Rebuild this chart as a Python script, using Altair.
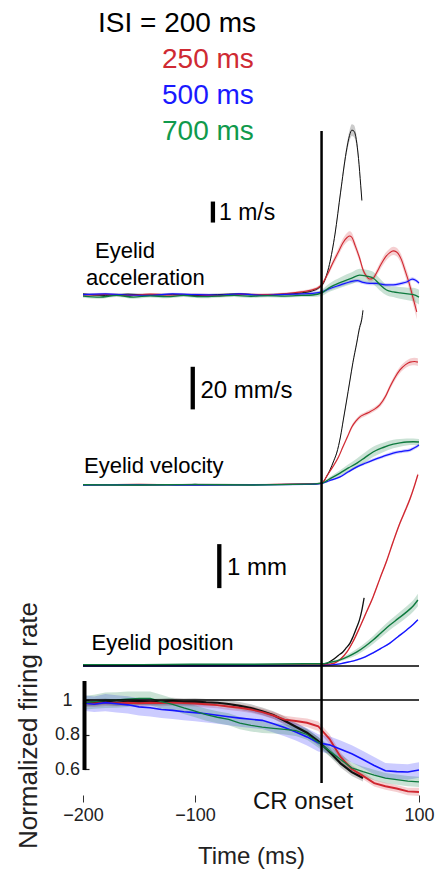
import altair as alt
import pandas as pd

FONT = "Liberation Sans"

# ---------------- data ----------------
ISI = ["200", "250", "500", "700"]
LEGEND_TEXT = ["ISI = 200 ms", "250 ms", "500 ms", "700 ms"]
LINE_COLORS = ["#111111", "#d0262f", "#1515ff", "#0e7a3e"]
TEXT_COLORS = ["#000000", "#cf2a33", "#1a1aff", "#109a4c"]
ONSET_T = 13  # ms, CR onset line position on the time axis

# Eyelid acceleration (m/s per scale bar)
ACC_T_200 = [-200, -180, -160, -140, -120, -100, -80, -60, -40, -20, -5, 5, 10, 15, 20, 25, 30, 35, 38, 40, 42, 44, 46, 48, 49]
ACC_V_200 = [0.05, -0.02, 0.04, 0.0, 0.03, -0.03, 0.02, 0.05, 0.0, 0.04, 0.1, 0.2, 0.32, 0.6, 1.45, 2.9, 4.9, 6.8, 7.6, 7.85, 7.8, 7.4, 6.5, 5.2, 4.5]
ACC_S_200 = [0.05, 0.05, 0.05, 0.05, 0.05, 0.05, 0.05, 0.05, 0.05, 0.05, 0.05, 0.06, 0.07, 0.08, 0.1, 0.12, 0.15, 0.2, 0.25, 0.28, 0.28, 0.25, 0.2, 0.15, 0.12]

ACC_T_250 = [-200, -180, -160, -140, -120, -100, -80, -60, -40, -20, -5, 5, 10, 13, 18, 23, 28, 32, 36, 38, 40, 43, 47, 50, 53, 56, 59, 62, 66, 70, 74, 77, 80, 84, 88, 91, 94, 96, 98]
ACC_V_250 = [0.0, 0.03, -0.02, 0.04, 0.0, 0.02, -0.03, 0.03, 0.02, 0.06, 0.15, 0.25, 0.35, 0.48, 0.95, 1.52, 2.05, 2.48, 2.75, 2.81, 2.75, 2.35, 1.75, 1.2, 0.9, 0.76, 0.8, 1.05, 1.45, 1.8, 2.02, 2.1, 2.05, 1.72, 1.1, 0.6, 0.0, -0.4, -0.8]
ACC_S_250 = [0.06, 0.06, 0.06, 0.06, 0.06, 0.06, 0.06, 0.06, 0.06, 0.06, 0.06, 0.07, 0.08, 0.1, 0.12, 0.15, 0.18, 0.2, 0.22, 0.22, 0.22, 0.2, 0.18, 0.15, 0.12, 0.12, 0.12, 0.15, 0.18, 0.2, 0.2, 0.2, 0.2, 0.22, 0.25, 0.28, 0.3, 0.32, 0.35]

ACC_T_500 = [-200, -180, -160, -140, -120, -100, -80, -60, -40, -20, -5, 5, 13, 20, 30, 38, 45, 50, 56, 62, 70, 77, 84, 89, 94, 97, 100]
ACC_V_500 = [0.02, 0.05, 0.0, -0.02, 0.05, 0.02, 0.0, 0.05, -0.02, 0.03, 0.05, 0.08, 0.14, 0.3, 0.48, 0.62, 0.68, 0.6, 0.55, 0.55, 0.48, 0.48, 0.55, 0.62, 0.76, 0.7, 0.57]
ACC_S_500 = [0.06, 0.06, 0.06, 0.06, 0.06, 0.06, 0.06, 0.06, 0.06, 0.06, 0.06, 0.08, 0.08, 0.08, 0.08, 0.08, 0.08, 0.08, 0.08, 0.08, 0.08, 0.08, 0.08, 0.08, 0.08, 0.08, 0.08]

ACC_T_700 = [-200, -185, -170, -155, -140, -125, -110, -95, -80, -65, -50, -35, -20, -5, 5, 13, 20, 30, 40, 47, 53, 59, 65, 71, 77, 83, 90, 95, 100]
ACC_V_700 = [-0.05, -0.1, -0.02, -0.1, -0.04, -0.08, -0.02, -0.08, -0.05, -0.02, -0.06, -0.03, -0.05, -0.02, 0.0, 0.1, 0.35, 0.6, 0.8, 0.95, 0.9, 0.81, 0.5, 0.24, 0.15, 0.1, 0.05, 0.02, -0.1]
ACC_S_700 = [0.08, 0.08, 0.08, 0.08, 0.08, 0.08, 0.08, 0.08, 0.08, 0.08, 0.08, 0.08, 0.08, 0.08, 0.1, 0.15, 0.2, 0.25, 0.28, 0.3, 0.3, 0.3, 0.28, 0.25, 0.25, 0.28, 0.3, 0.32, 0.35]

# Eyelid velocity (mm/s)
VEL_T_200 = [-200, -150, -100, -50, 0, 10, 13, 17, 20.5, 24, 26.5, 30, 32.4, 35, 38.4, 41, 44.4, 47, 48.8, 50]
VEL_V_200 = [0.2, 0.0, 0.3, 0.2, 0.4, 0.6, 0.8, 3.5, 7.0, 11.5, 15.0, 23.0, 30.5, 38.5, 49.3, 57.5, 66.7, 74.0, 77.5, 82.0]
VEL_S_200 = [0.3, 0.3, 0.3, 0.3, 0.3, 0.3, 0.3, 0.4, 0.5, 0.6, 0.7, 0.8, 0.9, 1.0, 1.1, 1.2, 1.3, 1.4, 1.5, 1.5]

VEL_T_250 = [-200, -150, -100, -50, 0, 10, 13.4, 18, 23, 28, 32, 36, 40, 44, 47, 52, 56, 60, 65, 70, 74, 78, 83, 88, 92, 96, 99]
VEL_V_250 = [0.0, 0.3, 0.0, 0.2, 0.5, 0.7, 0.9, 4.5, 8.5, 13.0, 17.8, 22.5, 27.2, 30.2, 31.9, 33.3, 34.3, 35.5, 37.6, 41.5, 46.0, 50.0, 54.0, 56.5, 57.7, 58.0, 57.7]
VEL_S_250 = [0.3, 0.3, 0.3, 0.3, 0.3, 0.3, 0.3, 0.5, 0.6, 0.7, 0.8, 0.9, 1.0, 1.0, 1.0, 1.0, 1.0, 1.0, 1.1, 1.2, 1.3, 1.4, 1.5, 1.6, 1.7, 1.8, 1.8]

VEL_T_500 = [-200, -150, -100, -50, 0, 13.4, 20, 29.5, 37, 44.6, 52, 59, 68, 77, 85, 92, 96, 100]
VEL_V_500 = [0.0, 0.2, -0.1, 0.1, 0.3, 0.8, 2.0, 3.8, 6.2, 8.5, 10.2, 11.7, 13.4, 15.0, 15.8, 16.4, 17.5, 18.8]
VEL_S_500 = [0.3, 0.3, 0.3, 0.3, 0.3, 0.3, 0.4, 0.5, 0.6, 0.6, 0.7, 0.7, 0.7, 0.8, 0.8, 0.8, 0.8, 0.8]

VEL_T_700 = [-200, -150, -100, -50, 0, 13.4, 20, 29.5, 37, 44.6, 52, 59, 68, 77, 83, 89, 95, 100]
VEL_V_700 = [0.1, 0.0, 0.2, 0.0, 0.4, 0.9, 2.8, 5.6, 8.0, 10.3, 13.0, 15.5, 17.6, 19.2, 19.8, 20.2, 20.3, 20.2]
VEL_S_700 = [0.3, 0.3, 0.3, 0.3, 0.3, 0.4, 0.8, 1.3, 1.8, 2.2, 2.4, 2.4, 2.2, 2.0, 1.8, 1.6, 1.5, 1.4]

# Eyelid position (mm)
POS_T_200 = [-200, -100, 0, 13.4, 18, 23, 28, 32, 35, 38.4, 41, 44.6, 47, 49, 51]
POS_V_200 = [0.02, 0.02, 0.02, 0.02, 0.06, 0.14, 0.24, 0.32, 0.41, 0.52, 0.66, 0.89, 1.06, 1.27, 1.55]
POS_S_200 = [0.01, 0.01, 0.01, 0.01, 0.01, 0.01, 0.01, 0.01, 0.01, 0.02, 0.02, 0.02, 0.02, 0.02, 0.02]

POS_T_250 = [-200, -100, 0, 13.4, 20, 25, 30, 35.7, 41, 47.3, 53, 59, 65, 71.4, 77, 83, 88, 92, 96, 99]
POS_V_250 = [0.02, 0.02, 0.02, 0.02, 0.04, 0.07, 0.16, 0.32, 0.55, 0.89, 1.22, 1.57, 1.98, 2.41, 2.83, 3.25, 3.55, 3.8, 4.1, 4.35]
POS_S_250 = [0.01, 0.01, 0.01, 0.01, 0.01, 0.01, 0.01, 0.02, 0.02, 0.02, 0.03, 0.03, 0.03, 0.04, 0.04, 0.04, 0.05, 0.05, 0.05, 0.05]

POS_T_500 = [-200, -100, 0, 13.4, 29.5, 37, 44.6, 52, 59, 66, 74, 81, 89, 95, 99]
POS_V_500 = [0.0, 0.0, 0.01, 0.01, 0.05, 0.09, 0.14, 0.21, 0.3, 0.4, 0.52, 0.66, 0.82, 0.95, 1.05]
POS_S_500 = [0.01, 0.01, 0.01, 0.01, 0.01, 0.01, 0.02, 0.02, 0.02, 0.02, 0.02, 0.02, 0.02, 0.02, 0.02]

POS_T_700 = [-200, -150, -100, -50, 0, 13.4, 20, 29.5, 37, 44.6, 52, 59, 66, 74, 81, 89, 95, 99]
POS_V_700 = [0.03, 0.03, 0.04, 0.04, 0.05, 0.05, 0.08, 0.14, 0.22, 0.32, 0.45, 0.59, 0.75, 0.93, 1.07, 1.23, 1.37, 1.5]
POS_S_700 = [0.01, 0.01, 0.01, 0.01, 0.01, 0.01, 0.02, 0.03, 0.05, 0.07, 0.08, 0.09, 0.1, 0.11, 0.12, 0.13, 0.13, 0.14]

# Normalized firing rate
FR_T = [-200, -190, -180, -170, -160, -150, -140, -130, -120, -110, -100, -90, -80, -70, -60, -50,
        -40, -30, -20, -10, 0, 10, 20, 30, 40, 50, 60, 70, 80, 90, 100]
FR_V_200 = [0.983, 0.986, 0.99, 0.985, 0.99, 0.992, 0.988, 0.99, 0.993, 0.989, 0.99, 0.986, 0.984, 0.977, 0.966, 0.953,
            0.935, 0.913, 0.88, 0.845, 0.81, 0.762, 0.70, 0.633, 0.582, 0.548]
FR_S_200 = [0.02, 0.02, 0.018, 0.018, 0.02, 0.02, 0.018, 0.018, 0.02, 0.02, 0.02, 0.02, 0.02, 0.022, 0.022, 0.022,
            0.022, 0.022, 0.024, 0.024, 0.024, 0.024, 0.024, 0.024, 0.022, 0.02]
FR_V_250 = [0.983, 0.98, 0.985, 0.982, 0.984, 0.981, 0.984, 0.982, 0.985, 0.982, 0.98, 0.975, 0.97, 0.962, 0.955, 0.945,
            0.93, 0.91, 0.886, 0.878, 0.868, 0.848, 0.775, 0.67, 0.60, 0.56, 0.518, 0.50, 0.487, 0.47, 0.467]
FR_S_250 = [0.02, 0.02, 0.02, 0.018, 0.018, 0.018, 0.018, 0.018, 0.018, 0.018, 0.018, 0.018, 0.018, 0.02, 0.02, 0.02,
            0.02, 0.02, 0.022, 0.022, 0.025, 0.028, 0.028, 0.025, 0.022, 0.02, 0.02, 0.02, 0.02, 0.022, 0.024]
FR_V_500 = [0.983, 0.975, 0.985, 0.978, 0.972, 0.96, 0.955, 0.945, 0.94, 0.932, 0.927, 0.92, 0.912, 0.903, 0.895, 0.888,
            0.882, 0.862, 0.84, 0.815, 0.786, 0.752, 0.74, 0.715, 0.688, 0.655, 0.62, 0.59, 0.585, 0.583, 0.594]
FR_S_500 = [0.045, 0.045, 0.05, 0.05, 0.05, 0.05, 0.05, 0.05, 0.05, 0.05, 0.05, 0.05, 0.05, 0.05, 0.05, 0.05,
            0.05, 0.05, 0.05, 0.05, 0.05, 0.05, 0.05, 0.05, 0.05, 0.05, 0.05, 0.045, 0.045, 0.045, 0.045]
FR_V_700 = [0.983, 0.99, 0.998, 1.0, 1.005, 1.01, 1.01, 0.99, 0.975, 0.954, 0.935, 0.915, 0.90, 0.888, 0.866, 0.853,
            0.843, 0.836, 0.83, 0.822, 0.80, 0.755, 0.705, 0.655, 0.607, 0.585, 0.565, 0.547, 0.538, 0.53, 0.525]
FR_S_700 = [0.04, 0.04, 0.045, 0.045, 0.045, 0.04, 0.04, 0.04, 0.035, 0.035, 0.035, 0.035, 0.035, 0.035, 0.035, 0.035,
            0.035, 0.03, 0.03, 0.03, 0.03, 0.03, 0.03, 0.03, 0.03, 0.03, 0.03, 0.03, 0.03, 0.03, 0.03]

# ---------------- layout (styling) ----------------
W, H = 336, 795
ACC_BASE_PX, ACC_PX = 295, 21.0     # px per 1 m/s
VEL_BASE_PX, VEL_PX = 485, 2.13     # px per 1 mm/s
POS_BASE_PX, POS_PX = 666, 44.0     # px per 1 mm
FR_ONE_PX, FR_PX = 700, 172.5       # px per 1.0 normalized

# line widths per series (200, 250, 500, 700) in each panel
ACC_LW = [1.0, 1.3, 1.6, 1.0]
VEL_LW = [1.0, 1.4, 2.0, 1.8]
POS_LW = [1.3, 1.4, 1.7, 2.0]
FR_LW = [2.2, 1.3, 1.2, 1.1]


def dom(base_px, px_per_unit, ref=0.0):
    return [ref - (H - base_px) / px_per_unit, ref + base_px / px_per_unit]


def build(series):
    rows = []
    for isi, (t, v, s) in zip(ISI, series):
        assert len(t) >= len(v) and len(v) == len(s), (isi, len(t), len(v), len(s))
        for a, b, c in zip(t, v, s):
            rows.append({"isi": isi, "t": a, "v": b, "lo": b - c, "hi": b + c})
    return pd.DataFrame(rows)


acc_df = build([(ACC_T_200, ACC_V_200, ACC_S_200), (ACC_T_250, ACC_V_250, ACC_S_250),
                (ACC_T_500, ACC_V_500, ACC_S_500), (ACC_T_700, ACC_V_700, ACC_S_700)])
vel_df = build([(VEL_T_200, VEL_V_200, VEL_S_200), (VEL_T_250, VEL_V_250, VEL_S_250),
                (VEL_T_500, VEL_V_500, VEL_S_500), (VEL_T_700, VEL_V_700, VEL_S_700)])
pos_df = build([(POS_T_200, POS_V_200, POS_S_200), (POS_T_250, POS_V_250, POS_S_250),
                (POS_T_500, POS_V_500, POS_S_500), (POS_T_700, POS_V_700, POS_S_700)])
fr_df = build([(FR_T, FR_V_200, FR_S_200), (FR_T, FR_V_250, FR_S_250),
               (FR_T, FR_V_500, FR_S_500), (FR_T, FR_V_700, FR_S_700)])

DUMMY = pd.DataFrame({"k": [0]})

XS = alt.Scale(domain=[-200, 100], nice=False, zero=False)
CS = alt.Scale(domain=ISI, range=LINE_COLORS)

XAXIS = alt.Axis(values=[-200, -100, 100], domain=False, grid=False, ticks=True, tickSize=7,
                 tickColor="#333333", tickWidth=1, labelFontSize=18, labelPadding=4,
                 labelColor="#222222", labelFont=FONT, labelFlush=False,
                 title="Time (ms)", titleFont=FONT, titleFontSize=24, titleFontWeight="normal",
                 titleColor="#222222", titleBaseline="alphabetic", titleY=68)

FR_AXIS = alt.Axis(orient="left", values=[0.6, 0.8, 1.0], format="~g", domain=False, grid=False,
                   ticks=True, tickSize=5, tickColor="#222222", tickWidth=1.2, offset=-6,
                   labelAlign="center", labelPadding=17, labelFontSize=18, labelColor="#222222",
                   labelFont=FONT, labelBaseline="middle",
                   title="Normalized firing rate", titleFont=FONT, titleFontSize=26,
                   titleFontWeight="normal", titleColor="#222222", titleX=-61, titleY=725,
                   titleAngle=-90, titleAlign="center", titleBaseline="middle")


def panel(df, ydom, lws, axis, interp, extras):
    ys = alt.Scale(domain=ydom, nice=False, zero=False)
    base = alt.Chart(df)
    band = base.mark_area(opacity=0.22, interpolate=interp).encode(
        x=alt.X("t:Q", scale=XS, axis=XAXIS),
        y=alt.Y("lo:Q", scale=ys, axis=axis, stack=None),
        y2="hi:Q",
        color=alt.Color("isi:N", scale=CS, legend=None),
    )
    line = base.mark_line(interpolate=interp).encode(
        x=alt.X("t:Q", scale=XS, axis=XAXIS),
        y=alt.Y("v:Q", scale=ys, axis=axis),
        color=alt.Color("isi:N", scale=CS, legend=None),
        strokeWidth=alt.StrokeWidth("isi:O", scale=alt.Scale(domain=ISI, range=lws), legend=None),
    )
    ex = [f(ys, axis) for f in extras]
    return alt.layer(band, line, *ex).resolve_scale(strokeWidth="independent")


def scale_bar(t, y0, y1):
    def f(ys, axis):
        return alt.Chart(DUMMY).mark_rule(strokeWidth=4.3, color="black").encode(
            x=alt.XDatum(t, scale=XS, axis=XAXIS),
            y=alt.YDatum(y0, scale=ys, axis=axis),
            y2=alt.datum(y1),
        )
    return f


def hline(v, width):
    def f(ys, axis):
        return alt.Chart(DUMMY).mark_rule(strokeWidth=width, color="black").encode(
            x=alt.XDatum(-200, scale=XS, axis=XAXIS),
            x2=alt.datum(100),
            y=alt.YDatum(v, scale=ys, axis=axis),
        )
    return f


def fr_bar(ys, axis):
    return alt.Chart(DUMMY).mark_rule(strokeWidth=4, color="black").encode(
        x=alt.value(1.5),
        y=alt.YDatum(0.594, scale=ys, axis=axis),
        y2=alt.datum(1.11),
    )


acc_panel = panel(acc_df, dom(ACC_BASE_PX, ACC_PX), ACC_LW, None, "monotone",
                  [scale_bar(-84, 3.45, 4.45)])
vel_panel = panel(vel_df, dom(VEL_BASE_PX, VEL_PX), VEL_LW, None, "monotone",
                  [scale_bar(-102, 35.5, 55.5)])
pos_panel = panel(pos_df, dom(POS_BASE_PX, POS_PX), POS_LW, None, "monotone",
                  [scale_bar(-78.3, 1.77, 2.77), hline(0, 1.6)])
fr_panel = panel(fr_df, dom(FR_ONE_PX, FR_PX, 1.0), FR_LW, FR_AXIS, "linear",
                 [hline(1, 1.3), fr_bar])

onset_line = alt.Chart(DUMMY).mark_rule(strokeWidth=2.5, color="black").encode(
    x=alt.XDatum(ONSET_T, scale=XS, axis=XAXIS),
    y=alt.value(131),
    y2=alt.value(783),
)


def label(txt, x, y, size, color="#000000"):
    return alt.Chart(pd.DataFrame({"s": [txt]})).mark_text(
        align="left", baseline="alphabetic", font=FONT, fontSize=size, color=color
    ).encode(x=alt.value(x), y=alt.value(y), text="s:N")


texts = [
    label(LEGEND_TEXT[0], 15, 31.5, 28, TEXT_COLORS[0]),
    label(LEGEND_TEXT[1], 79, 67.5, 28, TEXT_COLORS[1]),
    label(LEGEND_TEXT[2], 79, 103.5, 28, TEXT_COLORS[2]),
    label(LEGEND_TEXT[3], 79, 139.5, 28, TEXT_COLORS[3]),
    label("1 m/s", 136, 219.5, 23),
    label("Eyelid", 12, 258.3, 22),
    label("acceleration", 3, 285, 22),
    label("20 mm/s", 117.5, 398.3, 24),
    label("Eyelid velocity", 1, 472.7, 22),
    label("1 mm", 144, 575, 24),
    label("Eyelid position", 8.5, 650, 22),
    label("CR onset", 170, 808.5, 24, "#111111"),
]

chart = alt.layer(acc_panel, vel_panel, pos_panel, fr_panel, onset_line, *texts).resolve_scale(
    y="independent", strokeWidth="independent"
).properties(
    width=W,
    height=H,
    padding={"left": 83, "top": 0, "right": 17, "bottom": 79},
    autosize=alt.AutoSizeParams(type="none"),
    background="white",
).configure_view(stroke=None)

chart.save("out.html", embed_options={"renderer": "svg", "actions": False})
